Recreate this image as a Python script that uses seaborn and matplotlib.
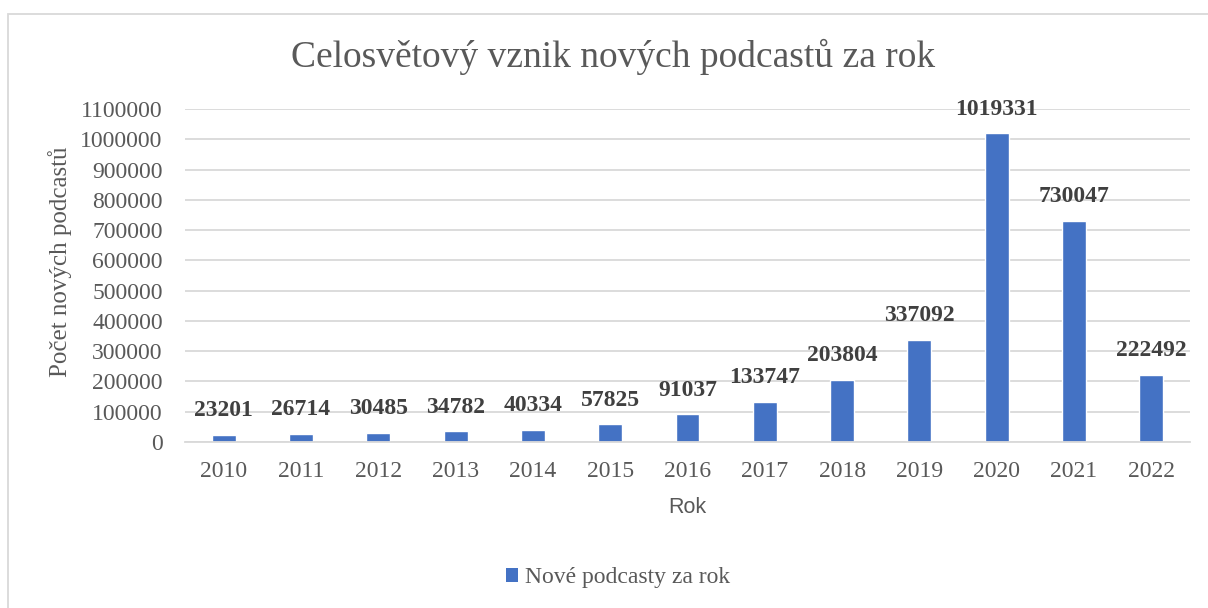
import pandas as pd
import seaborn as sns
import matplotlib.pyplot as plt
from matplotlib.patches import Patch, Rectangle

years = ["2010", "2011", "2012", "2013", "2014", "2015", "2016",
         "2017", "2018", "2019", "2020", "2021", "2022"]
new_podcasts = [23201, 26714, 30485, 34782, 40334, 57825, 91037,
                133747, 203804, 337092, 1019331, 730047, 222492]
y_ticks = list(range(0, 1100001, 100000))

df = pd.DataFrame({"Rok": years, "Nové podcasty za rok": new_podcasts})

sns.set_theme(style="white")
plt.rcParams["font.family"] = ["Liberation Serif", "DejaVu Serif"]

bar_color = "#4472C4"
text_gray = "#595959"
grid_gray = "#d9d9d9"

fig = plt.figure(figsize=(12.08, 6.08), dpi=100)
ax = fig.add_axes([185 / 1208, 1 - 442 / 608, 1005 / 1208, 333 / 608])

sns.barplot(data=df, x="Rok", y="Nové podcasty za rok", color=bar_color,
            width=0.31, saturation=1, ax=ax)

ax.set_ylim(0, 1100000)
ax.set_yticks(y_ticks)
ax.set_yticklabels([str(t) for t in y_ticks])
ax.yaxis.grid(True, color=grid_gray, linewidth=1.3)
ax.set_axisbelow(True)
for side in ["top", "right", "left"]:
    ax.spines[side].set_visible(False)
ax.spines["bottom"].set_color(grid_gray)
ax.spines["bottom"].set_linewidth(1.3)
ax.tick_params(axis="both", length=0, labelsize=17, labelcolor=text_gray)
ax.tick_params(axis="x", pad=14)
ax.tick_params(axis="y", pad=16)

ax.set_xlabel("Rok", fontsize=15.5, color=text_gray, va="center",
              family=["Liberation Sans", "DejaVu Sans"])
ax.xaxis.set_label_coords(0.5, -0.198)
ax.set_ylabel("Počet nových podcastů", fontsize=18, color=text_gray,
              va="center")
ax.yaxis.set_label_coords(-0.124, 0.54)

for i, v in enumerate(new_podcasts):
    ax.annotate(str(v), (i, v), xytext=(0, 17.5), textcoords="offset points",
                ha="center", va="center", fontsize=17, fontweight="bold",
                color="#404040")

fig.text(613 / 1208, 1 - 57 / 608, "Celosvětový vznik nových podcastů za rok",
         ha="center", va="center", fontsize=27, color=text_gray)

handle = Patch(facecolor=bar_color, edgecolor="none")
fig.legend([handle], ["Nové podcasty za rok"], loc="center",
           bbox_to_anchor=(618 / 1208, 1 - 578 / 608), frameon=False,
           fontsize=17, labelcolor=text_gray, handlelength=0.5,
           handleheight=0.5, handletextpad=0.3)

fig.patches.append(Rectangle((8 / 1208, -0.05), 1.1, 1 - 14 / 608 + 0.05,
                             transform=fig.transFigure, fill=False,
                             edgecolor=grid_gray, linewidth=1.3))

fig.savefig("out.png", dpi=100, facecolor="white")
